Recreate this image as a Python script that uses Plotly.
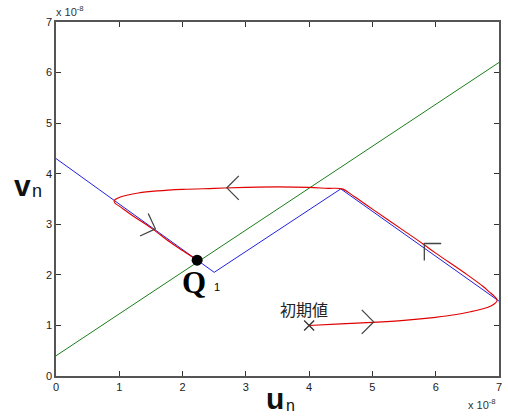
import math
import plotly.graph_objects as go

# values in units of 1e-8
green_x = [0.0, 7.0]
green_y = [0.4, 6.2]

blue_x = [0.0, 2.5, 4.5, 7.0]
blue_y = [4.3, 2.05, 3.7, 1.48]

red_x = [4.0, 4.5, 5.0, 5.5, 6.0, 6.3, 6.55, 6.75, 6.88, 6.95, 6.97, 6.93, 6.85, 6.75,
         6.5, 6.0, 5.8, 5.5, 5.0, 4.7, 4.52,
         4.3, 4.0, 3.5, 3.0, 2.5, 2.0, 1.6, 1.3, 1.1, 0.98, 0.92, 0.93, 1.0,
         1.2, 1.5, 1.8, 2.0, 2.22]
red_y = [1.0, 1.03, 1.06, 1.1, 1.16, 1.21, 1.27, 1.33, 1.39, 1.45, 1.5, 1.57, 1.66, 1.77,
         2.0, 2.43, 2.61, 2.87, 3.3, 3.56, 3.7,
         3.71, 3.73, 3.74, 3.73, 3.71, 3.69, 3.66, 3.62, 3.57, 3.52, 3.47, 3.42, 3.36,
         3.18, 2.93, 2.65, 2.48, 2.3]

start_x, start_y = [4.0], [1.0]
q_x, q_y = [2.23], [2.29]

# direction arrows: tip position and direction (degrees, math convention)
arrow_x = [2.70, 1.57, 5.02, 5.82]
arrow_y = [3.72, 2.91, 1.07, 2.62]
arrow_dir = [180, -20, 0, 135]

x_ticks = [0, 1, 2, 3, 4, 5, 6, 7]
y_ticks = [0, 1, 2, 3, 4, 5, 6, 7]

W, H = 508, 418
ML, MR, MT, MB = 56, 6, 22, 42
XR = [0, 7]
YR = [0, 7]
px_x = (W - ML - MR) / (XR[1] - XR[0])
px_y = (H - MT - MB) / (YR[1] - YR[0])

fig = go.Figure()
fig.add_trace(go.Scatter(x=green_x, y=green_y, mode="lines",
                         line=dict(color="#1a7f1a", width=1)))
fig.add_trace(go.Scatter(x=blue_x, y=blue_y, mode="lines",
                         line=dict(color="#2020e0", width=1)))
fig.add_trace(go.Scatter(x=red_x, y=red_y, mode="lines", line_shape="spline",
                         line=dict(color="#e00000", width=1.1)))

# chevrons
L = 17
cx, cy = [], []
for ax_, ay_, d in zip(arrow_x, arrow_y, arrow_dir):
    r1, r2 = math.radians(d + 135), math.radians(d + 225)
    cx += [ax_ + L * math.cos(r1) / px_x, ax_, ax_ + L * math.cos(r2) / px_x, None]
    cy += [ay_ + L * math.sin(r1) / px_y, ay_, ay_ + L * math.sin(r2) / px_y, None]
fig.add_trace(go.Scatter(x=cx, y=cy, mode="lines", line=dict(color="#444444", width=1.3)))

fig.add_trace(go.Scatter(x=start_x, y=start_y, mode="markers",
                         marker=dict(symbol="x-thin", size=10, line=dict(color="#333333", width=1.3))))
fig.add_trace(go.Scatter(x=q_x, y=q_y, mode="markers",
                         marker=dict(symbol="circle", size=11, color="black")))

def pxx(p):
    return (p - ML) / (W - ML - MR)

def pxy(p):
    return (H - MB - p) / (H - MT - MB)

def lab(text, px, py, size, family, color="#111"):
    return dict(text=text, x=pxx(px), y=pxy(py), xref="paper", yref="paper",
                xanchor="center", yanchor="middle", showarrow=False,
                font=dict(size=size, color=color, family=family))

ann = [
    lab("初期値", 306, 309, 16, "Noto Sans CJK JP", "#222"),
    lab("<b>Q</b>", 195, 282, 31, "Liberation Serif", "black"),
    lab("1", 218, 287, 11, "Liberation Sans", "black"),
    lab("<b>v</b>", 22, 186, 30, "Liberation Sans"),
    lab("n", 37, 191, 18, "Liberation Sans"),
    lab("<b>u</b>", 276, 399, 30, "Liberation Sans"),
    lab("n", 292, 405, 16, "Liberation Sans"),
    lab("x 10<sup>-8</sup>", 70, 11, 11, "Liberation Sans", "#333"),
    lab("x 10<sup>-8</sup>", 485, 404, 11, "Liberation Sans", "#333"),
]

axis_common = dict(showgrid=False, zeroline=False, showline=True, linecolor="#555555",
                   linewidth=1.5, mirror="ticks", ticks="inside", ticklen=5, tickwidth=1,
                   tickcolor="#333333", tickfont=dict(size=11, color="#222", family="Liberation Sans"))

fig.update_layout(
    width=W, height=H, margin=dict(l=ML, r=MR, t=MT, b=MB),
    paper_bgcolor="white", plot_bgcolor="white", showlegend=False,
    xaxis=dict(range=XR, tickvals=x_ticks, ticktext=[str(v) for v in x_ticks], **axis_common),
    yaxis=dict(range=YR, tickvals=y_ticks, ticktext=[str(v) for v in y_ticks], **axis_common),
    annotations=ann,
)
fig.write_html("out.html", config={"displayModeBar": False},
               post_script="document.body.style.margin='0px';")
